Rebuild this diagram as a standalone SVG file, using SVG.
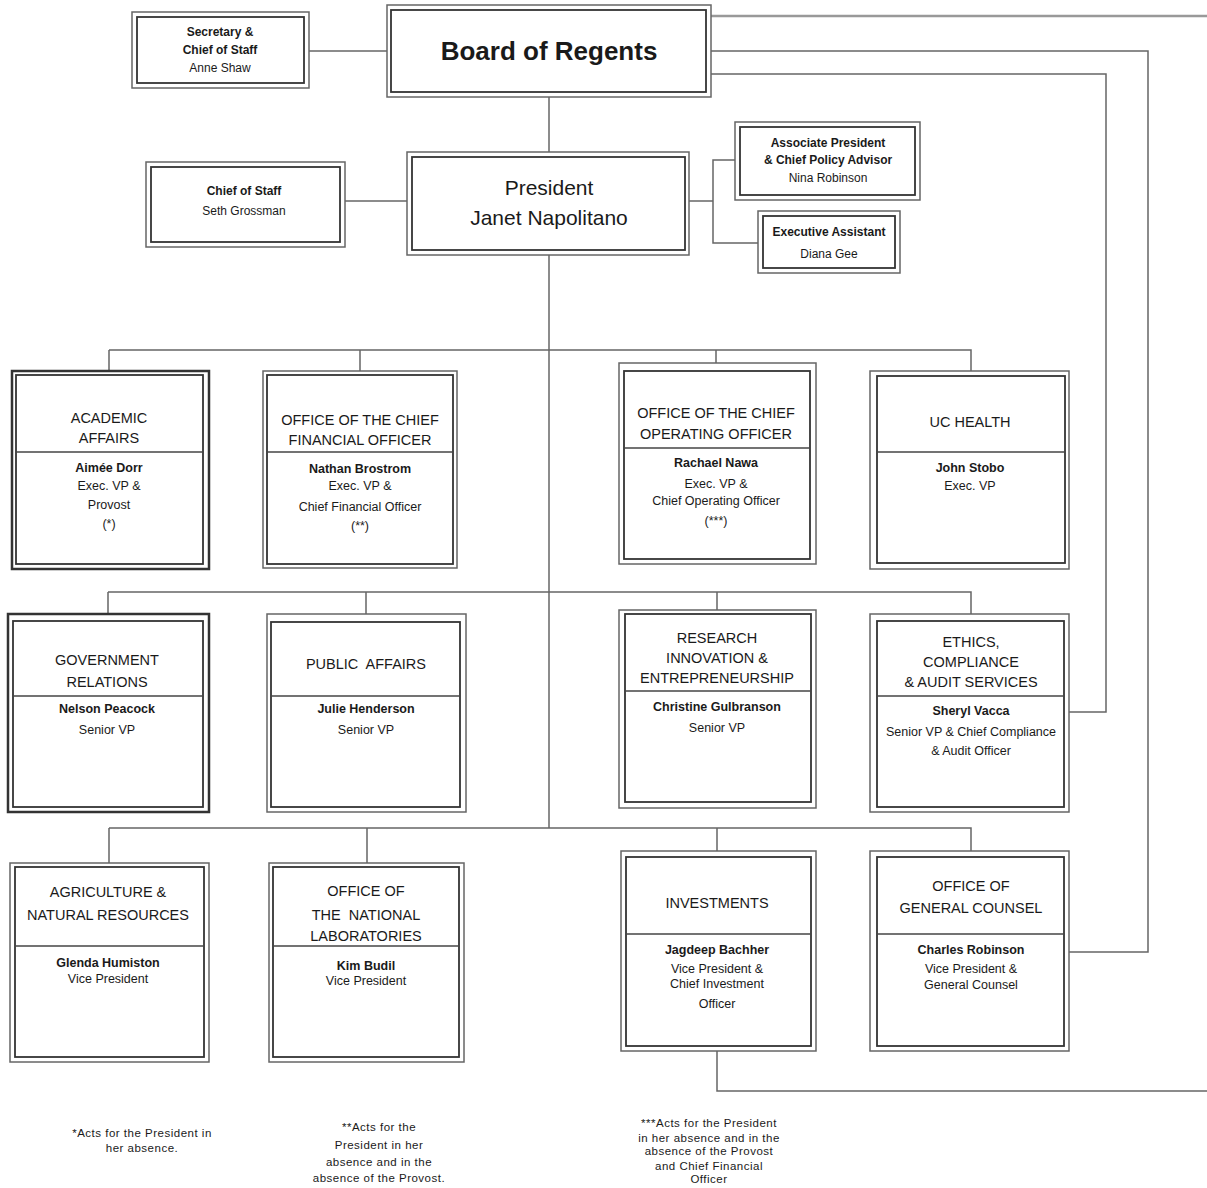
<svg xmlns="http://www.w3.org/2000/svg" width="1207" height="1188" viewBox="0 0 1207 1188">
<style>
text{font-family:"Liberation Sans",Arial,sans-serif;fill:#1a1a1a;text-anchor:middle}
.o{fill:#fff;stroke:#666;stroke-width:1.5}
.ot{fill:#fff;stroke:#333;stroke-width:2.5}
.i{fill:none;stroke:#333;stroke-width:1.8}
.dv{stroke:#444;stroke-width:1.5}
.ln{fill:none;stroke:#666;stroke-width:1.5}
.lt{fill:none;stroke:#999;stroke-width:2.5}
.h{font-size:14.5px}
.nm{font-size:12.5px;font-weight:bold}
.tx{font-size:12.5px}
.sm{font-size:12px;font-weight:bold}
.smr{font-size:12px}
.fn{font-size:11.5px;letter-spacing:0.5px}
</style>
<rect width="1207" height="1188" fill="#fff"/>
<g id="connectors">
<path class="ln" d="M309,51 H387"/>
<path class="ln" d="M549,97 V152"/>
<path class="ln" d="M345,201 H407"/>
<path class="ln" d="M689,201 H713"/>
<path class="ln" d="M735,160 H713 V243 H758"/>
<path class="lt" d="M711,16 H1207"/>
<path class="ln" d="M711,51 H1148 V952 H1069"/>
<path class="ln" d="M711,74 H1106 V712 H1069"/>
<path class="ln" d="M717,1050 V1091 H1207"/>
<path class="ln" d="M549,255 V828"/>
<path class="ln" d="M109,350 H971 V371 M109,350 V371 M360,350 V371 M716,350 V363"/>
<path class="ln" d="M108,592 H971 V614 M108,592 V614 M366,592 V614 M717,592 V610"/>
<path class="ln" d="M109,828 H971 V851 M109,828 V863 M367,828 V863 M717,828 V851"/>
</g>
<g id="board">
<rect class="o" x="387" y="5" width="324" height="92"/>
<rect class="i" x="391" y="10" width="315" height="82"/>
<text x="549" y="60" font-size="26" font-weight="bold">Board of Regents</text>
</g>
<g id="secretary">
<rect class="o" x="132" y="12" width="177" height="76"/>
<rect class="i" x="137" y="17" width="167" height="66"/>
<text class="sm" x="220" y="36">Secretary &amp;</text>
<text class="sm" x="220" y="54">Chief of Staff</text>
<text class="smr" x="220" y="72">Anne Shaw</text>
</g>
<g id="president">
<rect class="o" x="407" y="152" width="282" height="103"/>
<rect class="i" x="412" y="157" width="273" height="93"/>
<text x="549" y="195" font-size="21">President</text>
<text x="549" y="225" font-size="21">Janet Napolitano</text>
</g>
<g id="chief-of-staff">
<rect class="o" x="146" y="162" width="199" height="85"/>
<rect class="i" x="151" y="167" width="189" height="75"/>
<text class="sm" x="244" y="195">Chief of Staff</text>
<text class="smr" x="244" y="215">Seth Grossman</text>
</g>
<g id="assoc-president">
<rect class="o" x="735" y="122" width="185" height="78"/>
<rect class="i" x="740" y="127" width="175" height="68"/>
<text class="sm" x="828" y="147">Associate President</text>
<text class="sm" x="828" y="164">&amp; Chief Policy Advisor</text>
<text class="smr" x="828" y="182">Nina Robinson</text>
</g>
<g id="exec-assistant">
<rect class="o" x="758" y="211" width="142" height="62"/>
<rect class="i" x="763" y="216" width="132" height="52"/>
<text class="sm" x="829" y="236">Executive Assistant</text>
<text class="smr" x="829" y="258">Diana Gee</text>
</g>
<g id="academic-affairs">
<rect class="ot" x="12" y="371" width="197" height="198"/>
<rect class="i" x="16" y="375" width="187" height="189"/>
<line class="dv" x1="16" y1="452" x2="203" y2="452"/>
<text class="h" x="109" y="423">ACADEMIC</text>
<text class="h" x="109" y="443">AFFAIRS</text>
<text class="nm" x="109" y="472">Aimée Dorr</text>
<text class="tx" x="109" y="490">Exec. VP &amp;</text>
<text class="tx" x="109" y="509">Provost</text>
<text class="tx" x="109" y="528">(*)</text>
</g>
<g id="cfo">
<rect class="o" x="263" y="371" width="194" height="197"/>
<rect class="i" x="267" y="375" width="186" height="189"/>
<line class="dv" x1="267" y1="452" x2="453" y2="452"/>
<text class="h" x="360" y="425">OFFICE OF THE CHIEF</text>
<text class="h" x="360" y="445">FINANCIAL OFFICER</text>
<text class="nm" x="360" y="473">Nathan Brostrom</text>
<text class="tx" x="360" y="490">Exec. VP &amp;</text>
<text class="tx" x="360" y="511">Chief Financial Officer</text>
<text class="tx" x="360" y="530">(**)</text>
</g>
<g id="coo">
<rect class="o" x="619" y="363" width="197" height="201"/>
<rect class="i" x="624" y="371" width="186" height="188"/>
<line class="dv" x1="624" y1="448" x2="810" y2="448"/>
<text class="h" x="716" y="418">OFFICE OF THE  CHIEF</text>
<text class="h" x="716" y="439">OPERATING OFFICER</text>
<text class="nm" x="716" y="467">Rachael Nawa</text>
<text class="tx" x="716" y="488">Exec. VP &amp;</text>
<text class="tx" x="716" y="505">Chief Operating Officer</text>
<text class="tx" x="716" y="525">(***)</text>
</g>
<g id="uc-health">
<rect class="o" x="870" y="371" width="199" height="198"/>
<rect class="i" x="877" y="376" width="188" height="187"/>
<line class="dv" x1="877" y1="452" x2="1065" y2="452"/>
<text class="h" x="970" y="427">UC HEALTH</text>
<text class="nm" x="970" y="472">John Stobo</text>
<text class="tx" x="970" y="490">Exec. VP</text>
</g>
<g id="government-relations">
<rect class="ot" x="8" y="614" width="201" height="198"/>
<rect class="i" x="13" y="621" width="190" height="186"/>
<line class="dv" x1="13" y1="696" x2="203" y2="696"/>
<text class="h" x="107" y="665">GOVERNMENT</text>
<text class="h" x="107" y="687">RELATIONS</text>
<text class="nm" x="107" y="713">Nelson Peacock</text>
<text class="tx" x="107" y="734">Senior VP</text>
</g>
<g id="public-affairs">
<rect class="o" x="267" y="614" width="199" height="198"/>
<rect class="i" x="271" y="622" width="189" height="185"/>
<line class="dv" x1="271" y1="696" x2="460" y2="696"/>
<text class="h" x="366" y="669" xml:space="preserve">PUBLIC  AFFAIRS</text>
<text class="nm" x="366" y="713">Julie Henderson</text>
<text class="tx" x="366" y="734">Senior VP</text>
</g>
<g id="research">
<rect class="o" x="619" y="610" width="197" height="198"/>
<rect class="i" x="625" y="614" width="186" height="188"/>
<line class="dv" x1="625" y1="691" x2="811" y2="691"/>
<text class="h" x="717" y="643">RESEARCH</text>
<text class="h" x="717" y="663">INNOVATION &amp;</text>
<text class="h" x="717" y="683">ENTREPRENEURSHIP</text>
<text class="nm" x="717" y="711">Christine Gulbranson</text>
<text class="tx" x="717" y="732">Senior VP</text>
</g>
<g id="ethics">
<rect class="o" x="870" y="614" width="199" height="198"/>
<rect class="i" x="877" y="621" width="187" height="186"/>
<line class="dv" x1="877" y1="696" x2="1064" y2="696"/>
<text class="h" x="971" y="647">ETHICS,</text>
<text class="h" x="971" y="667">COMPLIANCE</text>
<text class="h" x="971" y="687">&amp; AUDIT SERVICES</text>
<text class="nm" x="971" y="715">Sheryl Vacca</text>
<text class="tx" x="971" y="736">Senior VP &amp; Chief Compliance</text>
<text class="tx" x="971" y="755">&amp; Audit Officer</text>
</g>
<g id="agriculture">
<rect class="o" x="10" y="863" width="199" height="199"/>
<rect class="i" x="15" y="867" width="189" height="190"/>
<line class="dv" x1="15" y1="946" x2="204" y2="946"/>
<text class="h" x="108" y="897">AGRICULTURE &amp;</text>
<text class="h" x="108" y="920">NATURAL RESOURCES</text>
<text class="nm" x="108" y="967">Glenda Humiston</text>
<text class="tx" x="108" y="983">Vice President</text>
</g>
<g id="national-labs">
<rect class="o" x="269" y="863" width="195" height="199"/>
<rect class="i" x="273" y="867" width="186" height="190"/>
<line class="dv" x1="273" y1="946" x2="459" y2="946"/>
<text class="h" x="366" y="896">OFFICE OF</text>
<text class="h" x="366" y="920" xml:space="preserve">THE  NATIONAL</text>
<text class="h" x="366" y="941">LABORATORIES</text>
<text class="nm" x="366" y="970">Kim Budil</text>
<text class="tx" x="366" y="985">Vice President</text>
</g>
<g id="investments">
<rect class="o" x="621" y="851" width="195" height="200"/>
<rect class="i" x="626" y="857" width="185" height="189"/>
<line class="dv" x1="626" y1="934" x2="811" y2="934"/>
<text class="h" x="717" y="908">INVESTMENTS</text>
<text class="nm" x="717" y="954">Jagdeep Bachher</text>
<text class="tx" x="717" y="973">Vice President &amp;</text>
<text class="tx" x="717" y="988">Chief Investment</text>
<text class="tx" x="717" y="1008">Officer</text>
</g>
<g id="general-counsel">
<rect class="o" x="870" y="851" width="199" height="200"/>
<rect class="i" x="877" y="857" width="187" height="189"/>
<line class="dv" x1="877" y1="934" x2="1064" y2="934"/>
<text class="h" x="971" y="891">OFFICE OF</text>
<text class="h" x="971" y="913">GENERAL COUNSEL</text>
<text class="nm" x="971" y="954">Charles Robinson</text>
<text class="tx" x="971" y="973">Vice President &amp;</text>
<text class="tx" x="971" y="989">General Counsel</text>
</g>
<g id="footnotes">
<text class="fn" x="142" y="1137">*Acts for the President in</text>
<text class="fn" x="142" y="1152">her absence.</text>
<text class="fn" x="379" y="1131">**Acts for the</text>
<text class="fn" x="379" y="1149">President in her</text>
<text class="fn" x="379" y="1166">absence and in the</text>
<text class="fn" x="379" y="1182">absence of the Provost.</text>
<text class="fn" x="709" y="1127">***Acts for the President</text>
<text class="fn" x="709" y="1142">in her absence and in the</text>
<text class="fn" x="709" y="1155">absence of the Provost</text>
<text class="fn" x="709" y="1170">and Chief Financial</text>
<text class="fn" x="709" y="1183">Officer</text>
</g>
</svg>
